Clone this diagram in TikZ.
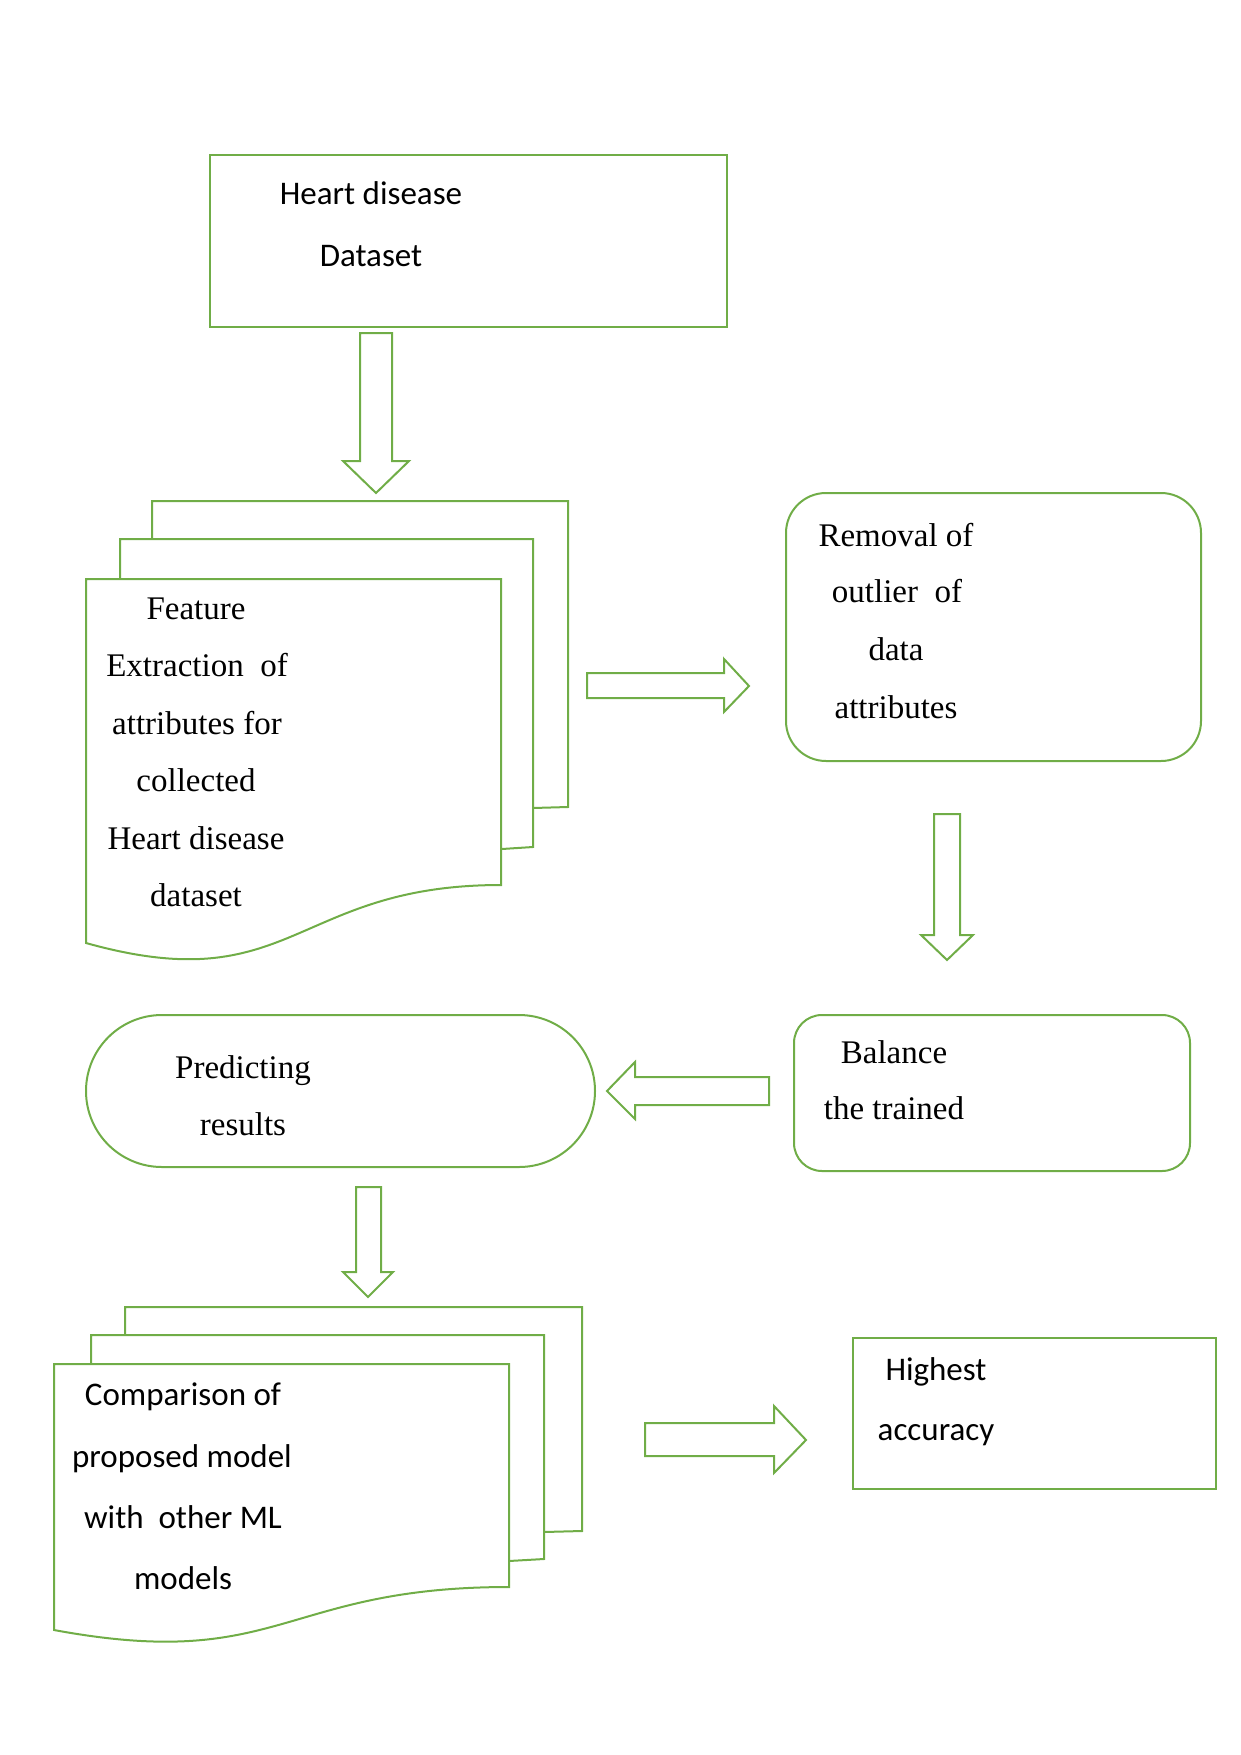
\documentclass[tikz,border=0pt]{standalone}
\usepackage{fontspec}
\setmainfont{Liberation Serif}
\newfontfamily\calfont{Carlito}
\definecolor{lgreen}{HTML}{70AD47}
\begin{document}
\begin{tikzpicture}[x=0.5pt,y=-0.5pt,
  shp/.style={draw=lgreen,line width=1pt,line join=miter},
  sertxt/.style={inner sep=0pt,anchor=base,font=\fontsize{16.5}{20}\selectfont},
  caltxt/.style={inner sep=0pt,anchor=base,font=\calfont\fontsize{16.5}{20}\selectfont}]
\useasboundingbox (0,0) rectangle (1241,1755);

% Box 1
\draw[shp] (210,155) rectangle (727,327);
\node[caltxt] (t1a) at (371,205) {Heart disease};
\node[caltxt] (t1b) at (371,266) {Dataset};

% Arrow 1 down
\draw[shp] (360,333) -- (392,333) -- (392,461) -- (409,461) -- (376,493) -- (343,461) -- (360,461) -- cycle;

% Stack 1
\draw[shp] (533,808) -- (568,807) -- (568,501) -- (152,501) -- (152,539);
\draw[shp] (502,849) -- (533,847) -- (533,539) -- (120,539) -- (120,579);
\draw[shp] (86,579) -- (501,579) -- (501,885) .. controls (293,885) and (293,1001) .. (86,943) -- cycle;
\node[sertxt] (t2a) at (196,619) {Feature};
\node[sertxt] (t2b) at (197,676) {Extraction\ \ of};
\node[sertxt] (t2c) at (197,734) {attributes for};
\node[sertxt] (t2d) at (196,791) {collected};
\node[sertxt] (t2e) at (196,849) {Heart disease};
\node[sertxt] (t2f) at (196,906) {dataset};

% Arrow right 1
\draw[shp] (587,673) -- (724,673) -- (724,659) -- (749,686) -- (724,712) -- (724,698) -- (587,698) -- cycle;

% Removal box
\draw[shp,rounded corners=20pt] (786,493) rectangle (1201,761);
\node[sertxt] (t3a) at (896,546) {Removal of};
\node[sertxt] (t3b) at (897,602) {outlier\ \ of};
\node[sertxt] (t3c) at (896,660) {data};
\node[sertxt] (t3d) at (896,718) {attributes};

% Arrow down 2
\draw[shp] (934,814) -- (960,814) -- (960,935) -- (973,935) -- (947,960) -- (921,935) -- (934,935) -- cycle;

% Balance box
\draw[shp,rounded corners=14pt] (794,1015) rectangle (1190,1171);
\node[sertxt] (t4a) at (894,1063) {Balance};
\node[sertxt] (t4b) at (894,1119) {the trained};

% Arrow left
\draw[shp] (769,1077) -- (635,1077) -- (635,1062) -- (607,1091) -- (635,1119) -- (635,1105) -- (769,1105) -- cycle;

% Predicting box
\draw[shp,rounded corners=38pt] (86,1015) rectangle (595,1167);
\node[sertxt] (t5a) at (243,1078) {Predicting};
\node[sertxt] (t5b) at (243,1135) {results};

% Arrow down 3
\draw[shp] (356,1187) -- (381,1187) -- (381,1272) -- (393,1272) -- (368,1297) -- (343,1272) -- (356,1272) -- cycle;

% Stack 2
\draw[shp] (544,1532) -- (582,1531) -- (582,1307) -- (125,1307) -- (125,1335);
\draw[shp] (509,1561) -- (544,1559) -- (544,1335) -- (91,1335) -- (91,1364);
\draw[shp] (54,1364) -- (509,1364) -- (509,1587) .. controls (281,1587) and (281,1672) .. (54,1630) -- cycle;
\node[caltxt] (t6a) at (183,1405) {Comparison of};
\node[caltxt] (t6b) at (182,1467) {proposed model};
\node[caltxt] (t6c) at (183,1528) {with\ \ other ML};
\node[caltxt] (t6d) at (183,1589) {models};

% Arrow right 2
\draw[shp] (645,1423) -- (774,1423) -- (774,1406) -- (806,1440) -- (774,1473) -- (774,1456) -- (645,1456) -- cycle;

% Highest box
\draw[shp] (853,1338) rectangle (1216,1489);
\node[caltxt] (t7a) at (936,1380) {Highest};
\node[caltxt] (t7b) at (936,1440) {accuracy};
\end{tikzpicture}
\end{document}
